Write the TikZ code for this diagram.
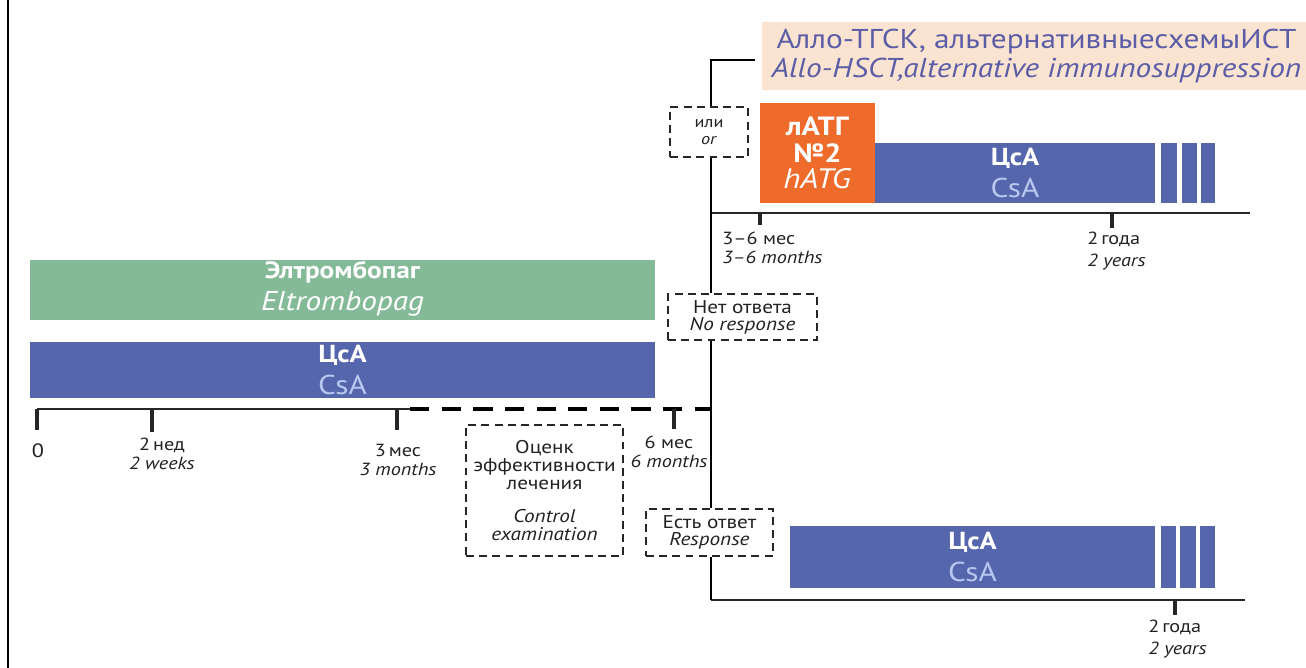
\documentclass[tikz,border=0pt]{standalone}
\usepackage{fontspec}
\setmainfont{PT Sans}[FakeStretch=1.15]
\usetikzlibrary{fit}
\definecolor{eltgreen}{HTML}{85BA98}
\definecolor{csablue}{HTML}{5666AD}
\definecolor{csalight}{HTML}{B9C8F0}
\definecolor{atgorange}{HTML}{EE6B2B}
\definecolor{peach}{HTML}{FBE3D2}
\definecolor{peachtext}{HTML}{5B5EA6}
\definecolor{labelgray}{HTML}{222222}
\tikzset{
  bar/.style={inner sep=0pt, draw=none},
  bartext/.style={inner sep=0pt, align=center, text=white},
  dbox/.style={draw=black!85, line width=1.6pt, dash pattern=on 4.5pt off 3pt, inner sep=0pt},
  dtext/.style={inner sep=0pt, align=center, text=labelgray, font=\fontsize{10.5}{9.8}\selectfont},
  axis/.style={draw=black!85, line width=1.4pt},
  daxis/.style={draw=black, line width=2.4pt, dash pattern=on 11pt off 7pt},
  tickmark/.style={draw=black!85, line width=1.8pt},
  conn/.style={draw=black, line width=1.5pt},
  tlabel/.style={align=center, text=labelgray, inner sep=0pt, font=\fontsize{10}{10.5}\selectfont},
  stripe/.style={fill=csablue, draw=none, inner sep=0pt},
  csastyle/.style={bartext, font=\fontsize{14}{15.3}\selectfont},
}
\newcommand\csatext{\textbf{ЦсА}\\[2.5pt]\fontsize{15.5}{15.3}\selectfont\textcolor{csalight}{CsA}}
\begin{document}
\begin{tikzpicture}[x=0.02cm,y=-0.02cm]
\useasboundingbox (0,0) rectangle (1306,668);
\fill[white] (0,0) rectangle (1306,668);
\draw[line width=1.1pt] (8,0) -- (8,668);

% ---- left bars
\node[bar, fill=eltgreen, fit={(30,260)(655,320)}] (elt) {};
\node[bartext, font=\fontsize{13.5}{17}\selectfont] (elt-t) at ([yshift=0.03cm]elt.center) {\textbf{Элтромбопаг}\\[1pt]\fontsize{15.5}{17}\selectfont\textit{Eltrombopag}};
\node[bar, fill=csablue, fit={(30,342)(655,398)}] (csa1) {};
\node[csastyle] (csa1-t) at (csa1.center) {\csatext};

% ---- main timeline
\coordinate (t0) at (37,409);
\coordinate (t2w) at (152,409);
\coordinate (t3m) at (397,409);
\coordinate (dstart) at (410,409);
\coordinate (t6m) at (674,409);
\coordinate (j) at (711,409);
\draw[axis] (t0) -- (dstart);
\draw[daxis] (dstart) -- (j);
\draw[tickmark] (t0) -- ++(0,21);
\draw[tickmark] (t2w) -- ++(0,23);
\draw[tickmark] (t3m) -- ++(0,21);
\draw[tickmark] (t6m) -- ++(0,20);
\node[tlabel] (l0) at (38,451) {\fontsize{11}{11}\selectfont 0};
\node[tlabel] (l2w) at (162,454) {2\,нед\\\textit{2 weeks}};
\node[tlabel] (l3m) at (398,460) {3\,мес\\\textit{3 months}};
\node[tlabel] (l6m) at (669,452) {6 мес\\\textit{6 months}};

\node[dbox, fit={(466,425)(623,556)}] (ctrl) {};
\node[dtext, font=\fontsize{10.5}{10.2}\selectfont] (ctrl-t) at (ctrl.center) {Оценк\\эффективности\\лечения\\[9pt]\textit{Control}\\\textit{examination}};

% ---- decision boxes
\node[dbox, fit={(670,107)(748,157)}] (or) {};
\node[dtext, font=\fontsize{9}{10}\selectfont] (or-t) at (or.center) {или\\\textit{or}};
\node[dbox, fit={(668,294)(817,340)}] (nr) {};
\node[dtext] (nr-t) at (nr.center) {Нет ответа\\\textit{No response}};
\node[dbox, fit={(646,509)(773,556)}] (yr) {};
\node[dtext] (yr-t) at (yr.center) {Есть ответ\\\textit{Response}};

% ---- peach box
\node[bar, fill=peach, fit={(762,22)(1306,90)}] (allo) {};
\node[bartext, text=peachtext, font=\fontsize{15.5}{17}\selectfont] (allo-t) at ([xshift=0.05cm]allo.center) {Алло-ТГСК, альтернативныесхемыИСТ\\\textit{Allo-HSCT,alternative immunosuppression}};

% ---- upper branch
\coordinate (topL) at (755,60);
\coordinate (topJ) at (711,60);
\coordinate (up0) at (711,213);
\coordinate (upEnd) at (1250,213);
\coordinate (up36) at (760,213);
\coordinate (up2y) at (1112,213);
\node[bar, fill=atgorange, fit={(760,103)(875,203)}] (atg) {};
\node[bartext, font=\fontsize{15}{15.3}\selectfont] (atg-t) at (atg.center) {\textbf{лАТГ}\\\textbf{№2}\\\fontsize{16}{15.3}\selectfont\textit{hATG}};
\node[bar, fill=csablue, fit={(875,143)(1155,203)}] (csa2) {};
\node[csastyle] (csa2-t) at (csa2.center) {\csatext};
\node[stripe, fit={(1161,143)(1177,203)}] (s21) {};
\node[stripe, fit={(1182,143)(1197,203)}] (s22) {};
\node[stripe, fit={(1201,143)(1215,203)}] (s23) {};
\draw[axis] (up0) -- (upEnd);
\draw[tickmark] (up36) -- ++(0,12);
\draw[tickmark] (up2y) -- ++(0,15);
\node[tlabel, anchor=north west, align=left] (l36) at (722,232) {3–6 мес\\\textit{3–6 months}};
\node[tlabel, anchor=north west, align=left] (l2y) at (1087,232) {2\,года\\[2pt]\textit{2 years}};

% ---- lower branch
\coordinate (lo0) at (711,600);
\coordinate (loEnd) at (1245,600);
\coordinate (lo2y) at (1175,600);
\node[bar, fill=csablue, fit={(790,526)(1155,588)}] (csa3) {};
\node[csastyle] (csa3-t) at (csa3.center) {\csatext};
\node[stripe, fit={(1161,526)(1176,588)}] (s31) {};
\node[stripe, fit={(1180,526)(1196,588)}] (s32) {};
\node[stripe, fit={(1200,526)(1215,588)}] (s33) {};
\draw[axis] (lo0) -- (loEnd);
\draw[tickmark] (lo2y) -- ++(0,15);
\node[tlabel, anchor=north west, align=left] (l2y2) at (1148,620) {2\,года\\[2pt]\textit{2 years}};

% ---- connectors
\draw[conn] (topL) -- (topJ) -- (or.north -| topJ);
\draw[conn] (or.south -| topJ) -- (up0);
\draw[conn] (up0) -- (nr.north -| up0);
\draw[conn] (nr.south -| up0) -- (j);
\draw[conn] (j) -- (yr.north -| j);
\draw[conn] (yr.south -| j) -- (lo0);
\end{tikzpicture}
\end{document}
